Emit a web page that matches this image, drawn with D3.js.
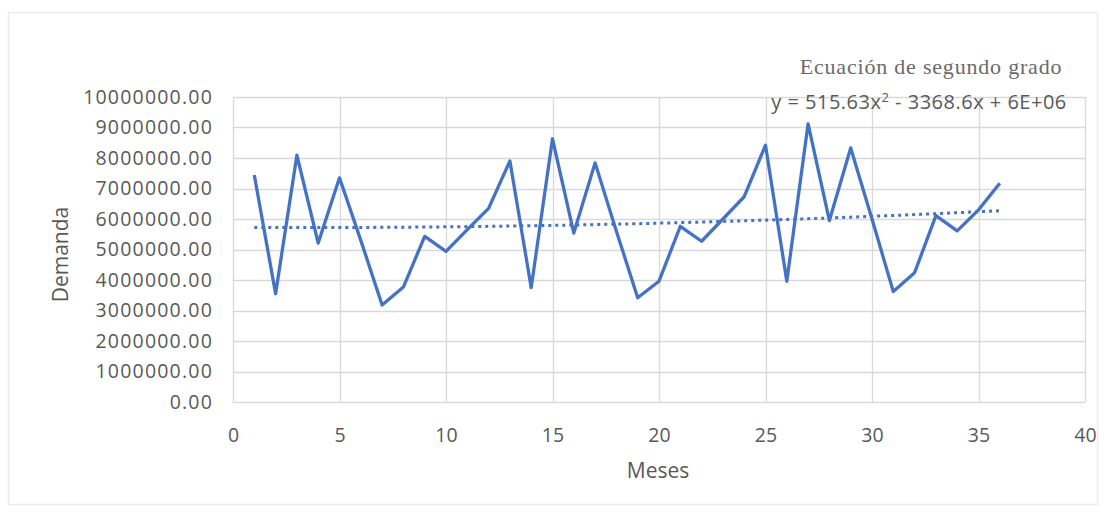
<!DOCTYPE html>
<html>
<head>
<meta charset="utf-8">
<script src="https://cdn.jsdelivr.net/npm/d3@7"></script>
<style>
  html, body { margin: 0; padding: 0; background: #fff; }
  svg { display: block; }
</style>
</head>
<body>
<svg id="chart" width="1111" height="514"></svg>
<script>
// Monthly demand (months 1..36)
const meses = [1,2,3,4,5,6,7,8,9,10,11,12,13,14,15,16,17,18,19,20,21,22,23,24,25,26,27,28,29,30,31,32,33,34,35,36];
const demanda = [7440000,3550000,8090000,5210000,7350000,5300000,3180000,3770000,5430000,4940000,5650000,6350000,
                 7900000,3750000,8630000,5540000,7840000,5600000,3420000,3960000,5760000,5270000,6000000,6730000,
                 8420000,3960000,9120000,5950000,8330000,6000000,3620000,4240000,6110000,5610000,6300000,7170000];

// Quadratic trend coefficients (y = a x^2 + b x + c)
const trendA = 515.63;
const trendB = -3368.6;
const trendC = 5725000;

const xTicks = [0,5,10,15,20,25,30,35,40];
const yTicks = [0,1000000,2000000,3000000,4000000,5000000,6000000,7000000,8000000,9000000,10000000];

const svg = d3.select("#chart");
const plot = { left: 233, right: 1085, top: 97, bottom: 402 };

// outer chart frame
svg.append("rect")
  .attr("x", 8.5).attr("y", 12.5).attr("width", 1089).attr("height", 492)
  .attr("fill", "#fff").attr("stroke", "#ececec").attr("stroke-width", 1.5);

const x = d3.scaleLinear().domain([0, 40]).range([plot.left, plot.right]);
const y = d3.scaleLinear().domain([0, 10000000]).range([plot.bottom, plot.top]);

const textColor = "#595959";
const font = "'Open Sans', 'Liberation Sans', sans-serif";

// gridlines
svg.append("g")
  .selectAll("line")
  .data(yTicks)
  .join("line")
  .attr("x1", plot.left).attr("x2", plot.right)
  .attr("y1", d => Math.round(y(d)) + 0.5).attr("y2", d => Math.round(y(d)) + 0.5)
  .attr("stroke", "#d9d9d9").attr("stroke-width", 1.3);

svg.append("g")
  .selectAll("line")
  .data(xTicks)
  .join("line")
  .attr("y1", plot.top).attr("y2", plot.bottom)
  .attr("x1", d => Math.round(x(d)) + 0.5).attr("x2", d => Math.round(x(d)) + 0.5)
  .attr("stroke", "#d9d9d9").attr("stroke-width", 1.3);

// axes (labels only)
const yAxis = d3.axisLeft(y).tickValues(yTicks).tickFormat(d3.format(".2f")).tickSize(0).tickPadding(20);
const gy = svg.append("g").attr("transform", `translate(${plot.left},0)`).call(yAxis);
gy.select(".domain").remove();
gy.selectAll("text")
  .attr("fill", textColor).attr("font-family", font).attr("font-size", 19.5)
  .attr("letter-spacing", 1.2);

const xAxis = d3.axisBottom(x).tickValues(xTicks).tickSize(0).tickPadding(26);
const gx = svg.append("g").attr("transform", `translate(0,${plot.bottom})`).call(xAxis);
gx.select(".domain").remove();
gx.selectAll("text")
  .attr("fill", textColor).attr("font-family", font).attr("font-size", 19.5);

// axis titles
svg.append("text")
  .attr("transform", `translate(68,${(plot.top + plot.bottom) / 2 + 5}) rotate(-90)`)
  .attr("text-anchor", "middle")
  .attr("fill", textColor).attr("font-family", font).attr("font-size", 21)
  .text("Demanda");

svg.append("text")
  .attr("x", 658).attr("y", 478)
  .attr("text-anchor", "middle")
  .attr("fill", textColor).attr("font-family", font).attr("font-size", 21)
  .text("Meses");

// demand series
const line = d3.line().x((d, i) => x(meses[i])).y(d => y(d));
svg.append("path")
  .datum(demanda)
  .attr("fill", "none")
  .attr("stroke", "#4472c4")
  .attr("stroke-width", 3.3)
  .attr("stroke-linejoin", "round")
  .attr("d", line);

// polynomial trend line (dotted)
const trendX = d3.range(meses[0], meses[meses.length - 1] + 0.001, 0.25);
const trend = d3.line().x(d => x(d)).y(d => y(trendA * d * d + trendB * d + trendC));
svg.append("path")
  .datum(trendX)
  .attr("fill", "none")
  .attr("stroke", "#4472c4")
  .attr("stroke-width", 3)
  .attr("stroke-dasharray", "3,4")
  .attr("d", trend);

// equation label
svg.append("text")
  .attr("x", 931).attr("y", 74)
  .attr("text-anchor", "middle")
  .attr("fill", "#6a6a6a").attr("font-family", "'Liberation Serif', 'DejaVu Serif', serif").attr("font-size", 22)
  .attr("letter-spacing", 0.8)
  .text("Ecuación de segundo grado");

const eq = svg.append("text")
  .attr("x", 919).attr("y", 109)
  .attr("text-anchor", "middle")
  .attr("fill", textColor).attr("font-family", font).attr("font-size", 20)
  .attr("letter-spacing", 0.5);
eq.append("tspan").text("y = 515.63x");
eq.append("tspan").attr("dy", -7).attr("font-size", 13).text("2");
eq.append("tspan").attr("dy", 7).text(" - 3368.6x + 6E+06");
</script>
</body>
</html>
